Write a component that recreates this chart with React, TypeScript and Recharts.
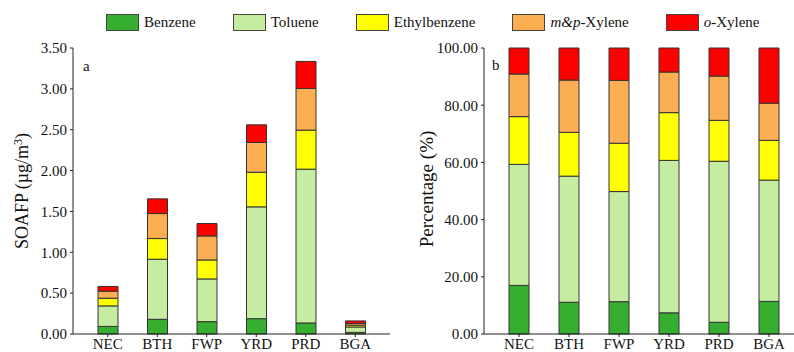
import React from 'react';
import { BarChart, Bar, XAxis, YAxis } from 'recharts';

const regions = ['NEC', 'BTH', 'FWP', 'YRD', 'PRD', 'BGA'];

// SOAFP contributions (µg/m3)
const benzene = [0.093, 0.18, 0.151, 0.188, 0.135, 0.02];
const toluene = [0.251, 0.735, 0.523, 1.368, 1.882, 0.066];
const ethylbenzene = [0.094, 0.253, 0.232, 0.424, 0.478, 0.022];
const mpXylene = [0.086, 0.306, 0.294, 0.364, 0.51, 0.021];
const oXylene = [0.058, 0.18, 0.152, 0.216, 0.331, 0.031];

// share of each species (%)
const benzenePct = [17.0, 11.1, 11.3, 7.4, 4.1, 11.4];
const toluenePct = [42.3, 44.1, 38.5, 53.3, 56.3, 42.4];
const ethylbenzenePct = [16.7, 15.3, 16.9, 16.7, 14.3, 13.9];
const mpXylenePct = [14.9, 18.3, 22.0, 14.2, 15.5, 13.0];
const oXylenePct = [9.1, 11.2, 11.3, 8.4, 9.8, 19.3];

const soaTicks = [0, 0.5, 1, 1.5, 2, 2.5, 3, 3.5];
const pctTicks = [0, 20, 40, 60, 80, 100];

const species = [
  { key: 'benzene', label: 'Benzene', color: '#36ae30' },
  { key: 'toluene', label: 'Toluene', color: '#c5eda2' },
  { key: 'ethylbenzene', label: 'Ethylbenzene', color: '#ffff00' },
  { key: 'mpXylene', label: 'm&p-Xylene', color: '#fbae52' },
  { key: 'oXylene', label: 'o-Xylene', color: '#ff0000' },
];

const FONT = '"Liberation Serif", "Times New Roman", serif';
const AXIS = '#222';

const soaData = regions.map((name, i) => ({
  name,
  benzene: benzene[i],
  toluene: toluene[i],
  ethylbenzene: ethylbenzene[i],
  mpXylene: mpXylene[i],
  oXylene: oXylene[i],
}));

const pctData = regions.map((name, i) => ({
  name,
  benzene: benzenePct[i],
  toluene: toluenePct[i],
  ethylbenzene: ethylbenzenePct[i],
  mpXylene: mpXylenePct[i],
  oXylene: oXylenePct[i],
}));

const tickStyle = { fontSize: 15, fontFamily: FONT, fill: '#111' };

function LegendLabel({ label }: { label: string }) {
  if (label === 'm&p-Xylene') {
    return (
      <span>
        <i>m&amp;p</i>-Xylene
      </span>
    );
  }
  if (label === 'o-Xylene') {
    return (
      <span>
        <i>o</i>-Xylene
      </span>
    );
  }
  return <span>{label}</span>;
}

function StackChart({
  data,
  width,
  yWidth,
  right,
  domain,
  ticks,
}: {
  data: any[];
  width: number;
  yWidth: number;
  right: number;
  domain: [number, number];
  ticks: number[];
}) {
  return (
    <BarChart
      width={width}
      height={352}
      data={data}
      margin={{ top: 48, right, bottom: 0, left: 0 }}
      barSize={20}
    >
      <XAxis
        dataKey="name"
        padding={{ left: 10, right: 10 }}
        height={18}
        stroke={AXIS}
        tickSize={3}
        tickMargin={1}
        tick={tickStyle}
        interval={0}
      />
      <XAxis
        xAxisId="top"
        dataKey="name"
        orientation="top"
        height={0}
        stroke={AXIS}
        tick={false}
        tickLine={false}
      />
      <YAxis
        width={yWidth}
        domain={domain}
        ticks={ticks}
        interval={0}
        stroke={AXIS}
        tickSize={3}
        tickMargin={3}
        tick={tickStyle}
        tickFormatter={(v: number) => v.toFixed(2)}
      />
      <YAxis
        yAxisId="right"
        orientation="right"
        width={0}
        stroke={AXIS}
        tick={false}
        tickLine={false}
      />
      {species.map((s) => (
        <Bar
          key={s.key}
          dataKey={s.key}
          stackId="a"
          fill={s.color}
          stroke="#333"
          strokeWidth={1}
          isAnimationActive={false}
        />
      ))}
    </BarChart>
  );
}

export default function App() {
  return (
    <div
      style={{
        position: 'absolute',
        left: 0,
        top: 0,
        width: 794,
        height: 352,
        overflow: 'hidden',
        background: '#fff',
        fontFamily: FONT,
        color: '#111',
      }}
    >
      {/* legend */}
      <div
        style={{
          position: 'absolute',
          left: 106,
          top: 14,
          display: 'flex',
          alignItems: 'center',
          fontSize: 15,
          whiteSpace: 'nowrap',
        }}
      >
        {species.map((s) => (
          <div key={s.key} style={{ display: 'flex', alignItems: 'center', marginRight: 37 }}>
            <div
              style={{
                width: 31,
                height: 15,
                background: s.color,
                border: '1px solid #444',
                marginRight: 5,
              }}
            />
            <LegendLabel label={s.label} />
          </div>
        ))}
      </div>

      <div style={{ position: 'absolute', left: 0, top: 0 }}>
        <StackChart data={soaData} width={400} yWidth={73} right={10} domain={[0, 3.5]} ticks={soaTicks} />
      </div>
      <div style={{ position: 'absolute', left: 390, top: 0 }}>
        <StackChart data={pctData} width={414} yWidth={94} right={0} domain={[0, 100]} ticks={pctTicks} />
      </div>

      {/* panel letters */}
      <span style={{ position: 'absolute', left: 83, top: 59, fontSize: 15, lineHeight: '15px' }}>a</span>
      <span style={{ position: 'absolute', left: 492, top: 58, fontSize: 15, lineHeight: '15px' }}>b</span>

      {/* axis titles */}
      <div
        style={{
          position: 'absolute',
          left: 22,
          top: 191,
          fontSize: 18,
          whiteSpace: 'nowrap',
          transform: 'translate(-50%, -50%) rotate(-90deg)',
        }}
      >
        SOAFP (µg/m<sup style={{ fontSize: 12, verticalAlign: '0.5em', lineHeight: 0 }}>3</sup>)
      </div>
      <div
        style={{
          position: 'absolute',
          left: 427,
          top: 189,
          fontSize: 19,
          whiteSpace: 'nowrap',
          transform: 'translate(-50%, -50%) rotate(-90deg)',
        }}
      >
        Percentage (%)
      </div>
    </div>
  );
}
